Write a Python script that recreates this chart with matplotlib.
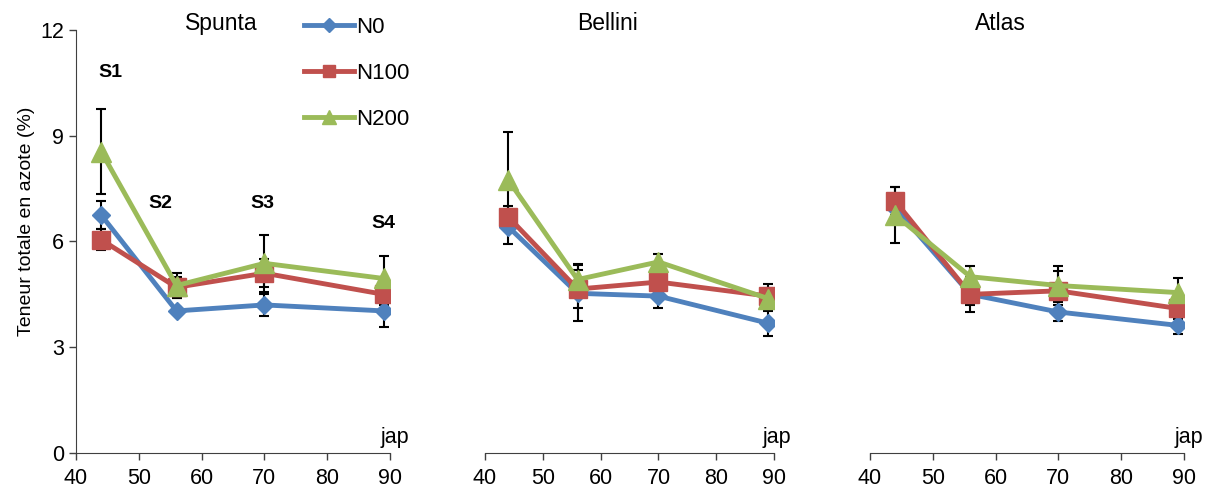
import numpy as np
import matplotlib.pyplot as plt
from matplotlib.lines import Line2D

plt.rcParams['font.family'] = ['Liberation Sans', 'DejaVu Sans']

# Sampling dates (days after planting) and nitrogen contents per variety
days = [44, 56, 70, 89]
doses = ['N0', 'N100', 'N200']
varieties = ['Spunta', 'Bellini', 'Atlas']
stages = ['S1', 'S2', 'S3', 'S4']

spunta_n0 = [6.75, 4.03, 4.2, 4.03]
spunta_n100 = [6.05, 4.7, 5.1, 4.5]
spunta_n200 = [8.55, 4.75, 5.38, 4.95]
spunta_n0_err = [0.4, 0.1, 0.3, 0.47]
spunta_n100_err = [0.3, 0.3, 0.4, 0.3]
spunta_n200_err = [1.2, 0.35, 0.8, 0.63]

bellini_n0 = [6.42, 4.53, 4.45, 3.68]
bellini_n100 = [6.7, 4.65, 4.85, 4.45]
bellini_n200 = [7.75, 4.92, 5.42, 4.38]
bellini_n0_err = [0.5, 0.8, 0.35, 0.35]
bellini_n100_err = [0.3, 0.55, 0.3, 0.35]
bellini_n200_err = [1.35, 0.45, 0.22, 0.3]

atlas_n0 = [6.95, 4.5, 4.0, 3.62]
atlas_n100 = [7.15, 4.5, 4.6, 4.1]
atlas_n200 = [6.75, 5.0, 4.75, 4.55]
atlas_n0_err = [0.3, 0.3, 0.27, 0.25]
atlas_n100_err = [0.4, 0.5, 0.55, 0.3]
atlas_n200_err = [0.8, 0.3, 0.55, 0.4]

values = {
    'Spunta': [spunta_n0, spunta_n100, spunta_n200],
    'Bellini': [bellini_n0, bellini_n100, bellini_n200],
    'Atlas': [atlas_n0, atlas_n100, atlas_n200],
}
errors = {
    'Spunta': [spunta_n0_err, spunta_n100_err, spunta_n200_err],
    'Bellini': [bellini_n0_err, bellini_n100_err, bellini_n200_err],
    'Atlas': [atlas_n0_err, atlas_n100_err, atlas_n200_err],
}

colors = ['#4F81BD', '#C0504D', '#9BBB59']
markers = ['D', 's', '^']
msizes = [9.5, 12.5, 14]

fig = plt.figure(figsize=(12.15, 4.92), dpi=100)
positions = [
    [0.0626, 0.0793, 0.2584, 0.8598],
    [0.3992, 0.0793, 0.2379, 0.8598],
    [0.7160, 0.0793, 0.2584, 0.8598],
]
title_x = [63.2, 61.1, 60.7]

for k, (name, pos) in enumerate(zip(varieties, positions)):
    ax = fig.add_axes(pos)
    for i in range(3):
        ax.errorbar(days, values[name][i], yerr=errors[name][i], fmt='none',
                    ecolor='black', elinewidth=1.5, capsize=3.5, capthick=1.5,
                    zorder=1)
    for i in range(3):
        ax.plot(days, values[name][i], color=colors[i], lw=3.5, marker=markers[i],
                ms=msizes[i], zorder=2 + i)

    ax.set_xlim(40, 90)
    ax.set_ylim(0, 12)
    ax.set_xticks(np.arange(40, 91, 10))
    ax.tick_params(axis='both', labelsize=15.5, direction='out', length=5,
                   width=1, color='#404040')
    ax.tick_params(axis='x', pad=6)
    for side in ['top', 'right']:
        ax.spines[side].set_visible(False)
    ax.spines['bottom'].set_color('#404040')
    ax.spines['left'].set_color('#404040')
    if k == 0:
        ax.set_yticks([0, 3, 6, 9, 12])
        ax.set_ylabel('Teneur totale en azote (%)', fontsize=14)
        ax.yaxis.set_label_coords(-0.13, 0.548)
    else:
        ax.spines['left'].set_visible(False)
        ax.set_yticks([])
    ax.patch.set_alpha(0)
    ax.text(title_x[k], 12.0, name, ha='center', va='baseline', fontsize=16.5)
    ax.text(93, 0.28, 'jap', ha='right', va='baseline', fontsize=15.5)

    if k == 0:
        # Stage labels above each sampling date
        label_pos = [(45.4, 10.8), (53.4, 7.09), (69.7, 7.09), (89, 6.52)]
        for s, (lx, ly) in zip(stages, label_pos):
            ax.text(lx, ly, s, ha='center', va='center', fontsize=14,
                    fontweight='bold')

handles = [Line2D([], [], color=c, lw=3.5, marker=m, ms=s * 0.7)
           for c, m, s in zip(colors, markers, msizes)]
fig.legend(handles, doses, loc='upper left', bbox_to_anchor=(0.243, 0.983),
           frameon=False, fontsize=16, handlelength=2.25, handletextpad=0.1,
           labelspacing=1.12, borderaxespad=0)

fig.savefig('out.png', dpi=100)
